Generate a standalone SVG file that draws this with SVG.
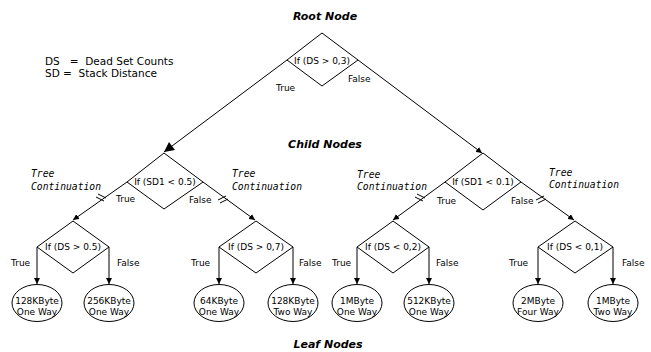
<svg xmlns="http://www.w3.org/2000/svg" width="651" height="352" viewBox="0 0 651 352">
<style>
.s{stroke:#000;stroke-width:1;fill:none}
.n{stroke:#000;stroke-width:1;fill:#fff}
.t{font-family:"DejaVu Sans",sans-serif;font-size:9px;fill:#000}
.c{text-anchor:middle}
.h{font-family:"DejaVu Sans",sans-serif;font-size:11px;font-weight:bold;font-style:italic;fill:#000;text-anchor:middle}
.m{font-family:"DejaVu Sans Mono",monospace;font-size:9.7px;font-style:italic;fill:#000}
.l{font-family:"DejaVu Sans",sans-serif;font-size:10.5px;fill:#000}
</style>
<defs>
<marker id="a" viewBox="0 0 10 10" refX="10" refY="5" markerWidth="6" markerHeight="6" markerUnits="userSpaceOnUse" orient="auto"><path d="M0,0L10,5L0,10z" fill="#000"/></marker>
<marker id="b" viewBox="0 0 10 10" refX="10" refY="5" markerWidth="13" markerHeight="10" markerUnits="userSpaceOnUse" orient="auto"><path d="M0,0L10,5L0,10z" fill="#000"/></marker>
</defs>
<text class="h" x="325" y="20">Root Node</text>
<text class="h" x="325" y="148">Child Nodes</text>
<text class="h" x="328" y="348">Leaf Nodes</text>
<text class="l" x="45" y="65" xml:space="preserve">DS   =  Dead Set Counts</text>
<text class="l" x="45" y="77" xml:space="preserve">SD =  Stack Distance</text>
<g id="connectors">
<line class="s" x1="287" y1="60" x2="164" y2="152" marker-end="url(#b)"/>
<line class="s" x1="358" y1="60" x2="482" y2="153" marker-end="url(#a)"/>
<line class="s" x1="127" y1="182" x2="73" y2="220" marker-end="url(#a)"/>
<line class="s" x1="203" y1="182" x2="255" y2="220" marker-end="url(#a)"/>
<line class="s" x1="445" y1="182" x2="393" y2="220" marker-end="url(#a)"/>
<line class="s" x1="521" y1="182" x2="574" y2="220" marker-end="url(#a)"/>
<path class="s" d="M96,197l8,4M98,194l8,4"/>
<path class="s" d="M218,200l8,-4M220,203l8,-4"/>
<path class="s" d="M415,197l8,4M417,194l8,4"/>
<path class="s" d="M536,200l8,-4M538,203l8,-4"/>
<line class="s" x1="37" y1="247" x2="37" y2="284" marker-end="url(#a)"/>
<line class="s" x1="109" y1="247" x2="109" y2="284" marker-end="url(#a)"/>
<line class="s" x1="219" y1="247" x2="219" y2="284" marker-end="url(#a)"/>
<line class="s" x1="293" y1="247" x2="293" y2="284" marker-end="url(#a)"/>
<line class="s" x1="357" y1="247" x2="357" y2="284" marker-end="url(#a)"/>
<line class="s" x1="429" y1="247" x2="429" y2="284" marker-end="url(#a)"/>
<line class="s" x1="538" y1="247" x2="538" y2="284" marker-end="url(#a)"/>
<line class="s" x1="613" y1="247" x2="613" y2="284" marker-end="url(#a)"/>
<text class="t" x="276" y="91">True</text>
<text class="t" x="348" y="82">False</text>
<text class="t" x="116" y="202">True</text>
<text class="t" x="189" y="203">False</text>
<text class="t" x="437" y="204">True</text>
<text class="t" x="511" y="204">False</text>
<text class="t" x="11" y="266">True</text>
<text class="t" x="117" y="266">False</text>
<text class="t" x="191" y="266">True</text>
<text class="t" x="299" y="266">False</text>
<text class="t" x="332" y="266">True</text>
<text class="t" x="436" y="266">False</text>
<text class="t" x="509" y="266">True</text>
<text class="t" x="622" y="266">False</text>
<text class="m" x="31" y="177">Tree</text>
<text class="m" x="31" y="190">Continuation</text>
<text class="m" x="232" y="177">Tree</text>
<text class="m" x="232" y="190">Continuation</text>
<text class="m" x="357" y="178">Tree</text>
<text class="m" x="357" y="190">Continuation</text>
<text class="m" x="549" y="176">Tree</text>
<text class="m" x="549" y="188">Continuation</text>
</g>
<g id="root"><path class="n" d="M322,33L358,60L322,86L287,60z"/><text class="t c" x="322" y="64">If (DS &gt; 0,3)</text></g>
<g id="child1"><path class="n" d="M164,153L203,182L164,209L127,182z"/><text class="t c" x="165" y="185">If (SD1 &lt; 0.5)</text></g>
<g id="child2"><path class="n" d="M483,153L521,182L483,210L445,182z"/><text class="t c" x="483" y="185">If (SD1 &lt; 0.1)</text></g>
<g id="d1"><path class="n" d="M73,221L109,247L73,273L37,247z"/><text class="t c" x="73" y="250">If (DS &gt; 0.5)</text></g>
<g id="d2"><path class="n" d="M256,221L293,247L256,273L219,247z"/><text class="t c" x="256" y="250">If (DS &gt; 0,7)</text></g>
<g id="d3"><path class="n" d="M393,221L429,247L393,273L357,247z"/><text class="t c" x="393" y="250">If (DS &lt; 0,2)</text></g>
<g id="d4"><path class="n" d="M575,221L613,247L575,273L538,247z"/><text class="t c" x="575" y="250">If (DS &lt; 0,1)</text></g>
<g id="leaf1"><ellipse class="n" cx="37" cy="303" rx="25" ry="18.5"/><text class="t c" x="37" y="304">128KByte</text><text class="t c" x="37" y="315">One Way</text></g>
<g id="leaf2"><ellipse class="n" cx="109" cy="303" rx="25" ry="18.5"/><text class="t c" x="109" y="304">256KByte</text><text class="t c" x="109" y="315">One Way</text></g>
<g id="leaf3"><ellipse class="n" cx="219" cy="303" rx="25" ry="18.5"/><text class="t c" x="219" y="304">64KByte</text><text class="t c" x="219" y="315">One Way</text></g>
<g id="leaf4"><ellipse class="n" cx="293" cy="303" rx="25" ry="18.5"/><text class="t c" x="293" y="304">128KByte</text><text class="t c" x="293" y="315">Two Way</text></g>
<g id="leaf5"><ellipse class="n" cx="357" cy="303" rx="25" ry="18.5"/><text class="t c" x="357" y="304">1MByte</text><text class="t c" x="357" y="315">One Way</text></g>
<g id="leaf6"><ellipse class="n" cx="429" cy="303" rx="25" ry="18.5"/><text class="t c" x="429" y="304">512KByte</text><text class="t c" x="429" y="315">One Way</text></g>
<g id="leaf7"><ellipse class="n" cx="538" cy="303" rx="25" ry="18.5"/><text class="t c" x="538" y="304">2MByte</text><text class="t c" x="538" y="315">Four Way</text></g>
<g id="leaf8"><ellipse class="n" cx="613" cy="303" rx="25" ry="18.5"/><text class="t c" x="613" y="304">1MByte</text><text class="t c" x="613" y="315">Two Way</text></g>
</svg>
